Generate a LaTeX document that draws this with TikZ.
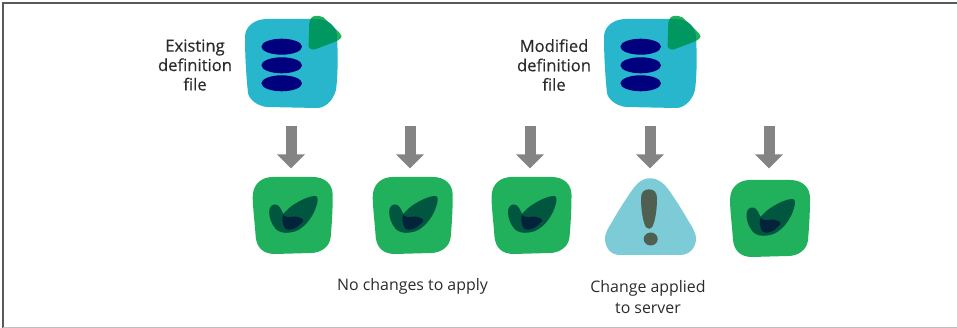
\documentclass[tikz,border=0pt]{standalone}
\usepackage{fontspec}
\setmainfont{Open Sans}
\newfontfamily\semifont[FakeBold=0.4]{Open Sans}
\usetikzlibrary{arrows.meta}
\definecolor{okgreen}{HTML}{21B05C}
\definecolor{okdark}{HTML}{01563F}
\definecolor{okdarker}{HTML}{03233A}
\definecolor{fileteal}{HTML}{27B6CB}
\definecolor{filenavy}{HTML}{00007F}
\definecolor{tabover}{HTML}{009760}
\definecolor{warnblue}{HTML}{7CCBD6}
\definecolor{warndark}{HTML}{4F5F50}
\definecolor{arrowgrey}{HTML}{848484}
\definecolor{textcol}{HTML}{2B2B2B}
\tikzset{
  x=1pt,y=-1pt,
  blockarrow/.style={draw=arrowgrey,line width=11pt,-{Triangle[length=14pt,width=27pt]},shorten >=0pt},
  boldlabel/.style={text=textcol,align=center,inner sep=0pt,font=\semifont\fontsize{16.6}{19.4}\selectfont},
  pluslabel/.style={text=textcol,align=center,inner sep=0pt,font=\fontsize{15.9}{20.5}\selectfont},
  okicon/.pic={
    \fill[okgreen] (0,20) .. controls (0,7) and (9,0) .. (20,0)
      -- (60,0) .. controls (72,0) and (80,7) .. (80,18)
      .. controls (80,35) and (79,48) .. (78,60)
      .. controls (77,70) and (68,76) .. (58,76)
      -- (22,77) .. controls (10,77) and (4,70) .. (3,60)
      .. controls (2,45) and (0,30) .. (0,20) -- cycle;
    \fill[okdark] (16.5,36) .. controls (16,30) and (19.5,27) .. (23,27.5)
      .. controls (27,28) and (28.5,33) .. (30.5,37)
      .. controls (35,32) and (38,29.5) .. (42,27)
      .. controls (48,23) and (56,19.5) .. (61,19)
      .. controls (64.5,18.8) and (65.5,20.5) .. (65,23)
      .. controls (64,31) and (60,39) .. (55,45)
      .. controls (50,51) and (44,55) .. (37.3,55.5)
      .. controls (31,56.5) and (26,55) .. (23,52)
      .. controls (19,47) and (16.8,42) .. (16.5,36) -- cycle;
    \fill[okdarker] (29.7,43) .. controls (29.5,40) and (30,38.5) .. (30.5,38)
      .. controls (33,40) and (35,40.5) .. (37,40)
      .. controls (40,39) and (44,39.5) .. (46,40.3)
      .. controls (49,41) and (50.7,42) .. (50.7,43.7)
      .. controls (48,47) and (45,50) .. (42,51.3)
      .. controls (38,53) and (35,53) .. (33,52)
      .. controls (31,50) and (29.8,46.5) .. (29.7,43) -- cycle;
  },
  fileicon/.pic={
    \fill[fileteal] (0,18) .. controls (0,7) and (10,0) .. (22,0)
      -- (72,0) .. controls (84,0) and (92,8) .. (92,18)
      .. controls (93,35) and (93,55) .. (91,71)
      .. controls (88,82) and (80,89) .. (72,89)
      -- (22,88) .. controls (12,87) and (4,80) .. (3,74)
      .. controls (1,55) and (0,35) .. (0,18) -- cycle;
    \fill[filenavy] (36.7,27.7) ellipse [x radius=20.3,y radius=8];
    \fill[filenavy] (36.7,46.3) ellipse [x radius=20.3,y radius=8];
    \fill[filenavy] (36.7,64.3) ellipse [x radius=20.3,y radius=8];
    \fill[okgreen] (64.3,4.3) .. controls (65,0) and (67,-3) .. (70,-3)
      .. controls (73,-3.5) and (76,-3) .. (78.3,-1.7)
      -- (95,14.3) .. controls (97,16.5) and (97,19) .. (95.7,19.3)
      .. controls (94,21) and (92,22) .. (90,22.7)
      -- (70,30.3) .. controls (66,31) and (63.5,29) .. (63.7,26)
      -- cycle;
    \begin{scope}
      \clip (0,18) .. controls (0,7) and (10,0) .. (22,0)
        -- (72,0) .. controls (84,0) and (92,8) .. (92,18)
        -- (92,40) -- (0,40) -- cycle;
      \fill[tabover] (64.3,4.3) .. controls (65,0) and (67,-3) .. (70,-3)
        .. controls (73,-3.5) and (76,-3) .. (78.3,-1.7)
        -- (95,14.3) .. controls (97,16.5) and (97,19) .. (95.7,19.3)
        .. controls (94,21) and (92,22) .. (90,22.7)
        -- (70,30.3) .. controls (66,31) and (63.5,29) .. (63.7,26)
        -- cycle;
    \end{scope}
  },
  warnicon/.pic={
    \fill[warnblue] (45,0) .. controls (53,0) and (59,5) .. (64,12)
      .. controls (71,22) and (78,33) .. (83,42)
      .. controls (88,50) and (91,55) .. (91,60)
      .. controls (91,70) and (84,76.7) .. (75,76.7)
      -- (15,76.7) .. controls (6,76.7) and (0,70) .. (0,60)
      .. controls (0,55) and (3,50) .. (8,42)
      .. controls (13,33) and (20,22) .. (27,12)
      .. controls (32,5) and (37,0) .. (45,0) -- cycle;
    \fill[warndark] (44,11) .. controls (49,11) and (52,14) .. (52,20)
      .. controls (52,32) and (50,44) .. (47,49)
      .. controls (46,51) and (43,51) .. (41,49)
      .. controls (38,44) and (36,32) .. (36,20)
      .. controls (36,14) and (39,11) .. (44,11) -- cycle;
    \fill[warndark] (45.7,60.7) ellipse [x radius=7,y radius=6.5];
  }
}
\begin{document}
\begin{tikzpicture}
\useasboundingbox (0,0) rectangle (957,328);
% frame
\draw[color=black!65,line width=1.2pt] (3,328) -- (3,3) -- (957,3);
\draw[color=black!25,line width=1pt] (3,327.3) -- (957,327.3);
% icons
\pic (fileA) at (245,19) {fileicon};
\pic (fileB) at (604,19) {fileicon};
\pic (okA) at (252.7,177) {okicon};
\pic (okB) at (372.7,177) {okicon};
\pic (okC) at (491.5,177) {okicon};
\pic (warn) at (605,178.3) {warnicon};
\pic (okD) at (730,180) {okicon};
% arrows
\coordinate (a1) at (291,126); \coordinate (b1) at (291,168.5);
\coordinate (a2) at (410,126); \coordinate (b2) at (410,168.5);
\coordinate (a3) at (530,126); \coordinate (b3) at (530,168.5);
\coordinate (a4) at (650,126); \coordinate (b4) at (650,168.5);
\coordinate (a5) at (769,126); \coordinate (b5) at (769,168.5);
\draw[blockarrow] (a1) -- (b1);
\draw[blockarrow] (a2) -- (b2);
\draw[blockarrow] (a3) -- (b3);
\draw[blockarrow] (a4) -- (b4);
\draw[blockarrow] (a5) -- (b5);
% labels
\node[boldlabel] (labA) at (195,65) {Existing\\definition\\file};
\node[boldlabel] (labB) at (554,65) {Modified\\definition\\file};
\node[pluslabel] (labC) at (412.5,286) {No changes to apply};
\node[pluslabel] (labD) at (648,297) {Change applied\\to server};
\end{tikzpicture}
\end{document}
